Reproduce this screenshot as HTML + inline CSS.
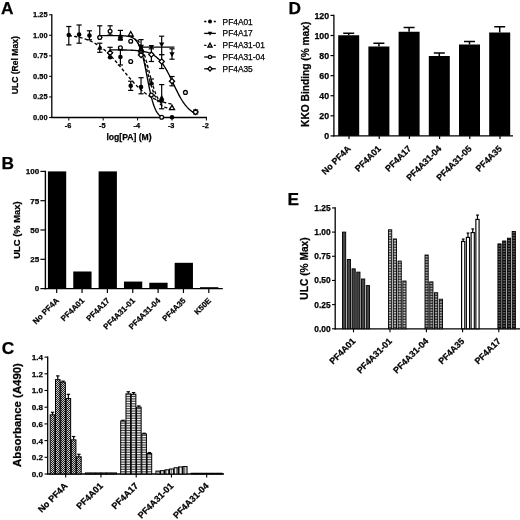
<!DOCTYPE html>
<html><head><meta charset="utf-8"><title>Figure</title>
<style>
html,body{margin:0;padding:0;background:#fff;}
svg{display:block;}
text{font-family:"Liberation Sans", Arial, sans-serif;fill:#000;stroke:#000;stroke-width:0.25px;}
</style></head><body>
<svg width="520" height="520" viewBox="0 0 520 520">
<rect width="520" height="520" fill="#fff"/>
<defs>
<pattern id="pDark" width="2" height="2" patternUnits="userSpaceOnUse"><rect width="2" height="2" fill="#222"/><rect x="0" y="0" width="1" height="1" fill="#ccc"/><rect x="1" y="1" width="1" height="1" fill="#ccc"/></pattern>
<pattern id="pLight" width="2" height="2" patternUnits="userSpaceOnUse"><rect width="2" height="2" fill="#ddd"/></pattern>
<pattern id="pH" width="2" height="1.7" patternUnits="userSpaceOnUse"><rect width="2" height="1.7" fill="#fff"/><rect x="0" y="0" width="2" height="0.8" fill="#333"/></pattern>
<pattern id="pV" width="1.6" height="2" patternUnits="userSpaceOnUse"><rect width="1.6" height="2" fill="#fff"/><rect x="0" y="0" width="0.7" height="2" fill="#555"/></pattern>
<pattern id="pGray" width="2" height="2" patternUnits="userSpaceOnUse"><rect width="2" height="2" fill="#444"/></pattern>
<pattern id="pDot" width="2" height="1.6" patternUnits="userSpaceOnUse"><rect width="2" height="1.6" fill="#333"/><rect x="0" y="0" width="2" height="0.75" fill="#ddd"/></pattern>
<pattern id="pDot2" width="2" height="1.6" patternUnits="userSpaceOnUse"><rect width="2" height="1.6" fill="#222"/><rect x="0" y="0" width="2" height="0.7" fill="#ccc"/></pattern>
<pattern id="pDark2" width="2" height="1.6" patternUnits="userSpaceOnUse"><rect width="2" height="1.6" fill="#000"/><rect x="0" y="0" width="2" height="0.55" fill="#999"/></pattern>
<filter id="soft" x="-2%" y="-2%" width="104%" height="104%"><feGaussianBlur stdDeviation="0.4"/></filter>
</defs>
<g filter="url(#soft)">
<text x="0.90" y="13.60" font-size="17.3" font-weight="bold" text-anchor="start">A</text>
<line x1="51.80" y1="14.20" x2="51.80" y2="118.10" stroke="#000" stroke-width="1.3"/>
<line x1="51.20" y1="117.50" x2="207.00" y2="117.50" stroke="#000" stroke-width="1.3"/>
<line x1="49.20" y1="117.50" x2="51.80" y2="117.50" stroke="#000" stroke-width="1.1"/>
<text x="47.50" y="119.80" font-size="7.4" font-weight="bold" text-anchor="end">0.00</text>
<line x1="49.20" y1="96.95" x2="51.80" y2="96.95" stroke="#000" stroke-width="1.1"/>
<text x="47.50" y="99.25" font-size="7.4" font-weight="bold" text-anchor="end">0.25</text>
<line x1="49.20" y1="76.40" x2="51.80" y2="76.40" stroke="#000" stroke-width="1.1"/>
<text x="47.50" y="78.70" font-size="7.4" font-weight="bold" text-anchor="end">0.50</text>
<line x1="49.20" y1="55.85" x2="51.80" y2="55.85" stroke="#000" stroke-width="1.1"/>
<text x="47.50" y="58.15" font-size="7.4" font-weight="bold" text-anchor="end">0.75</text>
<line x1="49.20" y1="35.30" x2="51.80" y2="35.30" stroke="#000" stroke-width="1.1"/>
<text x="47.50" y="37.60" font-size="7.4" font-weight="bold" text-anchor="end">1.00</text>
<line x1="49.20" y1="14.75" x2="51.80" y2="14.75" stroke="#000" stroke-width="1.1"/>
<text x="47.50" y="17.05" font-size="7.4" font-weight="bold" text-anchor="end">1.25</text>
<line x1="68.80" y1="117.50" x2="68.80" y2="120.50" stroke="#000" stroke-width="1.0"/>
<text x="68.00" y="127.70" font-size="7.4" font-weight="bold" text-anchor="middle">-6</text>
<line x1="103.20" y1="117.50" x2="103.20" y2="120.50" stroke="#000" stroke-width="1.0"/>
<text x="102.40" y="127.70" font-size="7.4" font-weight="bold" text-anchor="middle">-5</text>
<line x1="137.60" y1="117.50" x2="137.60" y2="120.50" stroke="#000" stroke-width="1.0"/>
<text x="136.80" y="127.70" font-size="7.4" font-weight="bold" text-anchor="middle">-4</text>
<line x1="172.00" y1="117.50" x2="172.00" y2="120.50" stroke="#000" stroke-width="1.0"/>
<text x="171.20" y="127.70" font-size="7.4" font-weight="bold" text-anchor="middle">-3</text>
<line x1="206.40" y1="117.50" x2="206.40" y2="120.50" stroke="#000" stroke-width="1.0"/>
<text x="205.60" y="127.70" font-size="7.4" font-weight="bold" text-anchor="middle">-2</text>
<text x="129.00" y="139.50" font-size="8.6" font-weight="bold" text-anchor="middle">log[PA] (M)</text>
<text x="18.20" y="65.20" font-size="8.6" font-weight="bold" text-anchor="middle" transform="rotate(-90 18.20 65.20)">ULC (Rel Max)</text>
<polyline points="68.80,35.53 70.09,35.70 71.38,35.87 72.67,36.07 73.96,36.28 75.25,36.50 76.54,36.75 77.83,37.02 79.12,37.30 80.41,37.62 81.70,37.95 82.99,38.31 84.28,38.70 85.57,39.13 86.86,39.58 88.15,40.07 89.44,40.59 90.73,41.15 92.02,41.75 93.31,42.40 94.60,43.08 95.89,43.81 97.18,44.59 98.47,45.42 99.76,46.30 101.05,47.23 102.34,48.21 103.63,49.24 104.92,50.33 106.21,51.46 107.50,52.65 108.79,53.89 110.08,55.18 111.37,56.52 112.66,57.89 113.95,59.31 115.24,60.77 116.53,62.26 117.82,63.78 119.11,65.32 120.40,66.88 121.69,68.45 122.98,70.02 124.27,71.60 125.56,73.18 126.85,74.74 128.14,76.29 129.43,77.81 130.72,79.31 132.01,80.77 133.30,82.20 134.59,83.59 135.88,84.94 137.17,86.24 138.46,87.49 139.75,88.69 141.04,89.85 142.33,90.94 143.62,91.99 144.91,92.99 146.20,93.93 147.49,94.82 148.78,95.66 150.07,96.45 151.36,97.20 152.65,97.90 153.94,98.55 155.23,99.16 156.52,99.73 157.81,100.27 159.10,100.76 160.39,101.23 161.68,101.66 162.97,102.05 164.26,102.42 165.55,102.77 166.84,103.09 168.13,103.38 169.42,103.65 170.71,103.90 172.00,104.13" fill="none" stroke="#000" stroke-width="1.35" stroke-dasharray="3.2 2.2"/>
<polyline points="139.32,47.05 139.76,47.05 140.20,47.05 140.64,47.05 141.07,47.05 141.51,47.05 141.95,47.05 142.39,47.05 142.83,47.05 143.27,47.05 143.71,47.05 144.14,47.05 144.58,47.05 145.02,47.05 145.46,47.05 145.90,47.05 146.34,47.05 146.78,47.05 147.21,47.05 147.65,47.05 148.09,47.05 148.53,47.05 148.97,47.05 149.41,47.05 149.85,47.05 150.28,47.05 150.72,47.05 151.16,47.05 151.60,47.05 152.04,47.05 152.48,47.05 152.92,47.05 153.36,47.05 153.79,47.05 154.23,47.05 154.67,47.05 155.11,47.05 155.55,47.05 155.99,47.05 156.43,47.05 156.86,47.05 157.30,47.05 157.74,47.05 158.18,47.05 158.62,47.05 159.06,47.05 159.50,47.05 159.93,47.05 160.37,47.05 160.81,47.05 161.25,47.05 161.69,47.05 162.13,47.05 162.57,47.05 163.00,47.05 163.44,47.05 163.88,47.05 164.32,47.05 164.76,47.05 165.20,47.05 165.64,47.05 166.07,47.05 166.51,47.05 166.95,47.05 167.39,47.05 167.83,47.05 168.27,47.05 168.71,47.05 169.14,47.05 169.58,47.05 170.02,47.05 170.46,47.05 170.90,47.05 171.34,47.05 171.78,47.05 172.21,47.05 172.65,47.05 173.09,47.05 173.53,47.05 173.97,47.05 174.41,47.05" fill="none" stroke="#000" stroke-width="1.35"/>
<polyline points="130.72,35.51 131.24,35.79 131.75,36.10 132.27,36.44 132.78,36.82 133.30,37.23 133.82,37.68 134.33,38.17 134.85,38.70 135.36,39.29 135.88,39.93 136.40,40.63 136.91,41.38 137.43,42.20 137.94,43.09 138.46,44.04 138.98,45.07 139.49,46.17 140.01,47.35 140.52,48.61 141.04,49.95 141.56,51.36 142.07,52.85 142.59,54.42 143.10,56.06 143.62,57.77 144.14,59.54 144.65,61.37 145.17,63.25 145.68,65.16 146.20,67.11 146.72,69.08 147.23,71.06 147.75,73.04 148.26,75.00 148.78,76.95 149.30,78.87 149.81,80.74 150.33,82.57 150.84,84.34 151.36,86.05 151.88,87.69 152.39,89.26 152.91,90.75 153.42,92.17 153.94,93.50 154.46,94.76 154.97,95.94 155.49,97.04 156.00,98.07 156.52,99.03 157.04,99.91 157.55,100.73 158.07,101.49 158.58,102.18 159.10,102.82 159.62,103.41 160.13,103.95 160.65,104.44 161.16,104.89 161.68,105.30 162.20,105.67 162.71,106.01 163.23,106.32 163.74,106.60 164.26,106.86 164.78,107.09 165.29,107.30 165.81,107.49 166.32,107.66 166.84,107.82 167.36,107.96 167.87,108.09 168.39,108.20 168.90,108.31 169.42,108.40 169.94,108.49 170.45,108.57 170.97,108.63 171.48,108.70 172.00,108.75" fill="none" stroke="#000" stroke-width="1.35" stroke-dasharray="3.2 2.2"/>
<polyline points="137.60,39.93 137.90,40.33 138.20,40.75 138.50,41.19 138.80,41.65 139.11,42.13 139.41,42.63 139.71,43.16 140.01,43.72 140.31,44.29 140.61,44.89 140.91,45.52 141.21,46.17 141.51,46.85 141.81,47.56 142.12,48.29 142.42,49.05 142.72,49.83 143.02,50.64 143.32,51.48 143.62,52.35 143.92,53.24 144.22,54.16 144.52,55.10 144.82,56.06 145.12,57.05 145.43,58.06 145.73,59.10 146.03,60.15 146.33,61.22 146.63,62.30 146.93,63.41 147.23,64.52 147.53,65.65 147.83,66.78 148.13,67.93 148.44,69.08 148.74,70.23 149.04,71.39 149.34,72.54 149.64,73.69 149.94,74.84 150.24,75.98 150.54,77.11 150.84,78.23 151.14,79.34 151.45,80.43 151.75,81.51 152.05,82.57 152.35,83.61 152.65,84.63 152.95,85.63 153.25,86.60 153.55,87.56 153.85,88.48 154.16,89.39 154.46,90.26 154.76,91.11 155.06,91.94 155.36,92.73 155.66,93.50 155.96,94.25 156.26,94.96 156.56,95.65 156.86,96.32 157.16,96.96 157.47,97.57 157.77,98.15 158.07,98.72 158.37,99.26 158.67,99.77 158.97,100.26 159.27,100.73 159.57,101.18 159.87,101.61 160.18,102.01 160.48,102.40 160.78,102.77 161.08,103.12 161.38,103.46 161.68,103.77" fill="none" stroke="#000" stroke-width="1.35" stroke-dasharray="3.2 2.2"/>
<polyline points="99.76,35.55 100.53,35.55 101.31,35.55 102.08,35.55 102.86,35.55 103.63,35.55 104.40,35.55 105.18,35.55 105.95,35.55 106.73,35.55 107.50,35.55 108.27,35.55 109.05,35.55 109.82,35.55 110.60,35.56 111.37,35.56 112.14,35.56 112.92,35.56 113.69,35.57 114.47,35.57 115.24,35.58 116.01,35.58 116.79,35.59 117.56,35.60 118.34,35.61 119.11,35.63 119.88,35.64 120.66,35.66 121.43,35.69 122.21,35.72 122.98,35.75 123.75,35.80 124.53,35.85 125.30,35.91 126.08,35.99 126.85,36.08 127.62,36.19 128.40,36.33 129.17,36.49 129.95,36.69 130.72,36.92 131.49,37.21 132.27,37.55 133.04,37.96 133.82,38.46 134.59,39.05 135.36,39.75 136.14,40.58 136.91,41.57 137.69,42.73 138.46,44.09 139.23,45.68 140.01,47.52 140.78,49.62 141.56,52.01 142.33,54.69 143.10,57.66 143.88,60.92 144.65,64.43 145.43,68.15 146.20,72.03 146.97,76.01 147.75,80.01 148.52,83.97 149.30,87.80 150.07,91.46 150.84,94.89 151.62,98.05 152.39,100.93 153.17,103.51 153.94,105.80 154.71,107.81 155.49,109.56 156.26,111.07 157.04,112.37 157.81,113.47 158.58,114.40 159.36,115.19 160.13,115.85 160.91,116.41 161.68,116.87" fill="none" stroke="#000" stroke-width="1.35"/>
<polyline points="110.08,49.87 111.16,49.88 112.23,49.88 113.31,49.89 114.38,49.89 115.45,49.90 116.53,49.90 117.61,49.91 118.68,49.92 119.75,49.93 120.83,49.94 121.91,49.96 122.98,49.97 124.06,49.99 125.13,50.01 126.20,50.03 127.28,50.06 128.36,50.09 129.43,50.12 130.50,50.16 131.58,50.21 132.66,50.26 133.73,50.32 134.81,50.39 135.88,50.46 136.95,50.55 138.03,50.65 139.11,50.76 140.18,50.89 141.25,51.04 142.33,51.21 143.41,51.40 144.48,51.62 145.56,51.87 146.63,52.15 147.70,52.47 148.78,52.83 149.86,53.23 150.93,53.69 152.00,54.21 153.08,54.79 154.16,55.45 155.23,56.18 156.31,56.99 157.38,57.90 158.45,58.90 159.53,60.01 160.61,61.23 161.68,62.56 162.75,64.01 163.83,65.57 164.91,67.25 165.98,69.05 167.06,70.95 168.13,72.95 169.20,75.04 170.28,77.20 171.36,79.42 172.43,81.67 173.50,83.95 174.58,86.22 175.66,88.47 176.73,90.67 177.81,92.82 178.88,94.89 179.95,96.86 181.03,98.74 182.11,100.51 183.18,102.17 184.25,103.70 185.33,105.12 186.41,106.42 187.48,107.62 188.56,108.70 189.63,109.68 190.70,110.56 191.78,111.36 192.86,112.07 193.93,112.70 195.00,113.27 196.08,113.77" fill="none" stroke="#000" stroke-width="1.35"/>
<line x1="68.80" y1="26.50" x2="68.80" y2="44.90" stroke="#000" stroke-width="1.2"/>
<line x1="66.20" y1="26.50" x2="71.40" y2="26.50" stroke="#000" stroke-width="1.2"/>
<line x1="66.20" y1="44.90" x2="71.40" y2="44.90" stroke="#000" stroke-width="1.2"/>
<line x1="79.12" y1="25.00" x2="79.12" y2="43.20" stroke="#000" stroke-width="1.2"/>
<line x1="76.52" y1="25.00" x2="81.72" y2="25.00" stroke="#000" stroke-width="1.2"/>
<line x1="76.52" y1="43.20" x2="81.72" y2="43.20" stroke="#000" stroke-width="1.2"/>
<line x1="89.44" y1="30.80" x2="89.44" y2="39.80" stroke="#000" stroke-width="1.2"/>
<line x1="86.84" y1="30.80" x2="92.04" y2="30.80" stroke="#000" stroke-width="1.2"/>
<line x1="86.84" y1="39.80" x2="92.04" y2="39.80" stroke="#000" stroke-width="1.2"/>
<line x1="120.40" y1="50.00" x2="120.40" y2="65.00" stroke="#000" stroke-width="1.2"/>
<line x1="117.80" y1="50.00" x2="123.00" y2="50.00" stroke="#000" stroke-width="1.2"/>
<line x1="117.80" y1="65.00" x2="123.00" y2="65.00" stroke="#000" stroke-width="1.2"/>
<line x1="130.72" y1="81.20" x2="130.72" y2="90.40" stroke="#000" stroke-width="1.2"/>
<line x1="128.12" y1="81.20" x2="133.32" y2="81.20" stroke="#000" stroke-width="1.2"/>
<line x1="128.12" y1="90.40" x2="133.32" y2="90.40" stroke="#000" stroke-width="1.2"/>
<line x1="141.04" y1="77.70" x2="141.04" y2="93.80" stroke="#000" stroke-width="1.2"/>
<line x1="138.44" y1="77.70" x2="143.64" y2="77.70" stroke="#000" stroke-width="1.2"/>
<line x1="138.44" y1="93.80" x2="143.64" y2="93.80" stroke="#000" stroke-width="1.2"/>
<line x1="161.68" y1="84.60" x2="161.68" y2="108.80" stroke="#000" stroke-width="1.2"/>
<line x1="159.08" y1="84.60" x2="164.28" y2="84.60" stroke="#000" stroke-width="1.2"/>
<line x1="159.08" y1="108.80" x2="164.28" y2="108.80" stroke="#000" stroke-width="1.2"/>
<line x1="99.76" y1="43.20" x2="99.76" y2="52.30" stroke="#000" stroke-width="1.2"/>
<line x1="97.16" y1="43.20" x2="102.36" y2="43.20" stroke="#000" stroke-width="1.2"/>
<line x1="97.16" y1="52.30" x2="102.36" y2="52.30" stroke="#000" stroke-width="1.2"/>
<line x1="120.40" y1="30.40" x2="120.40" y2="39.60" stroke="#000" stroke-width="1.2"/>
<line x1="117.80" y1="30.40" x2="123.00" y2="30.40" stroke="#000" stroke-width="1.2"/>
<line x1="117.80" y1="39.60" x2="123.00" y2="39.60" stroke="#000" stroke-width="1.2"/>
<line x1="141.04" y1="39.60" x2="141.04" y2="54.00" stroke="#000" stroke-width="1.2"/>
<line x1="138.44" y1="39.60" x2="143.64" y2="39.60" stroke="#000" stroke-width="1.2"/>
<line x1="138.44" y1="54.00" x2="143.64" y2="54.00" stroke="#000" stroke-width="1.2"/>
<line x1="161.68" y1="36.20" x2="161.68" y2="54.60" stroke="#000" stroke-width="1.2"/>
<line x1="159.08" y1="36.20" x2="164.28" y2="36.20" stroke="#000" stroke-width="1.2"/>
<line x1="159.08" y1="54.60" x2="164.28" y2="54.60" stroke="#000" stroke-width="1.2"/>
<line x1="172.00" y1="48.80" x2="172.00" y2="59.20" stroke="#000" stroke-width="1.2"/>
<line x1="169.40" y1="48.80" x2="174.60" y2="48.80" stroke="#000" stroke-width="1.2"/>
<line x1="169.40" y1="59.20" x2="174.60" y2="59.20" stroke="#000" stroke-width="1.2"/>
<line x1="151.36" y1="79.00" x2="151.36" y2="83.20" stroke="#000" stroke-width="1.2"/>
<line x1="148.76" y1="79.00" x2="153.96" y2="79.00" stroke="#000" stroke-width="1.2"/>
<line x1="148.76" y1="83.20" x2="153.96" y2="83.20" stroke="#000" stroke-width="1.2"/>
<line x1="99.76" y1="25.80" x2="99.76" y2="37.40" stroke="#000" stroke-width="1.2"/>
<line x1="97.16" y1="25.80" x2="102.36" y2="25.80" stroke="#000" stroke-width="1.2"/>
<line x1="97.16" y1="37.40" x2="102.36" y2="37.40" stroke="#000" stroke-width="1.2"/>
<line x1="110.08" y1="25.80" x2="110.08" y2="35.00" stroke="#000" stroke-width="1.2"/>
<line x1="107.48" y1="25.80" x2="112.68" y2="25.80" stroke="#000" stroke-width="1.2"/>
<line x1="107.48" y1="35.00" x2="112.68" y2="35.00" stroke="#000" stroke-width="1.2"/>
<line x1="110.08" y1="47.30" x2="110.08" y2="52.80" stroke="#000" stroke-width="1.2"/>
<line x1="107.48" y1="47.30" x2="112.68" y2="47.30" stroke="#000" stroke-width="1.2"/>
<line x1="107.48" y1="52.80" x2="112.68" y2="52.80" stroke="#000" stroke-width="1.2"/>
<line x1="151.36" y1="48.80" x2="151.36" y2="61.50" stroke="#000" stroke-width="1.2"/>
<line x1="148.76" y1="48.80" x2="153.96" y2="48.80" stroke="#000" stroke-width="1.2"/>
<line x1="148.76" y1="61.50" x2="153.96" y2="61.50" stroke="#000" stroke-width="1.2"/>
<line x1="161.68" y1="54.60" x2="161.68" y2="68.50" stroke="#000" stroke-width="1.2"/>
<line x1="159.08" y1="54.60" x2="164.28" y2="54.60" stroke="#000" stroke-width="1.2"/>
<line x1="159.08" y1="68.50" x2="164.28" y2="68.50" stroke="#000" stroke-width="1.2"/>
<line x1="172.00" y1="76.50" x2="172.00" y2="85.80" stroke="#000" stroke-width="1.2"/>
<line x1="169.40" y1="76.50" x2="174.60" y2="76.50" stroke="#000" stroke-width="1.2"/>
<line x1="169.40" y1="85.80" x2="174.60" y2="85.80" stroke="#000" stroke-width="1.2"/>
<line x1="195.56" y1="110.00" x2="195.56" y2="114.00" stroke="#000" stroke-width="1.2"/>
<line x1="192.96" y1="110.00" x2="198.16" y2="110.00" stroke="#000" stroke-width="1.2"/>
<line x1="192.96" y1="114.00" x2="198.16" y2="114.00" stroke="#000" stroke-width="1.2"/>
<circle cx="68.80" cy="35.00" r="2.3" fill="#000"/>
<circle cx="79.12" cy="34.60" r="2.3" fill="#000"/>
<circle cx="89.44" cy="35.60" r="2.3" fill="#000"/>
<circle cx="110.08" cy="57.20" r="2.3" fill="#000"/>
<circle cx="120.40" cy="57.00" r="2.3" fill="#000"/>
<circle cx="130.72" cy="85.80" r="2.3" fill="#000"/>
<circle cx="141.04" cy="87.00" r="2.3" fill="#000"/>
<circle cx="161.68" cy="100.50" r="2.3" fill="#000"/>
<circle cx="172.00" cy="117.20" r="2.3" fill="#000"/>
<polygon points="97.06,49.86 102.46,49.86 99.76,45.00" fill="#000"/>
<polygon points="117.70,40.36 123.10,40.36 120.40,35.50" fill="#000"/>
<polygon points="138.34,45.34 143.74,45.34 141.04,50.20" fill="#000"/>
<polygon points="148.66,45.04 154.06,45.04 151.36,49.90" fill="#000"/>
<polygon points="158.98,42.44 164.38,42.44 161.68,47.30" fill="#000"/>
<polygon points="169.30,52.24 174.70,52.24 172.00,57.10" fill="#000"/>
<polygon points="117.70,37.76 123.10,37.76 120.40,32.90" fill="#000"/>
<polygon points="128.22,36.00 133.22,36.00 130.72,31.50" fill="#fff" stroke="#000" stroke-width="1.3"/>
<polygon points="138.54,51.50 143.54,51.50 141.04,47.00" fill="#fff" stroke="#000" stroke-width="1.3"/>
<polygon points="148.66,85.36 154.06,85.36 151.36,80.50" fill="#000"/>
<polygon points="158.98,99.66 164.38,99.66 161.68,94.80" fill="#000"/>
<polygon points="169.50,109.70 174.50,109.70 172.00,105.20" fill="#fff" stroke="#000" stroke-width="1.3"/>
<circle cx="99.76" cy="37.40" r="1.9" fill="#fff" stroke="#000" stroke-width="1.3"/>
<circle cx="110.08" cy="31.20" r="1.9" fill="#fff" stroke="#000" stroke-width="1.3"/>
<circle cx="130.72" cy="41.20" r="1.9" fill="#fff" stroke="#000" stroke-width="1.3"/>
<circle cx="141.04" cy="52.50" r="1.9" fill="#fff" stroke="#000" stroke-width="1.3"/>
<circle cx="151.36" cy="95.00" r="1.9" fill="#fff" stroke="#000" stroke-width="1.3"/>
<circle cx="161.68" cy="117.30" r="1.9" fill="#fff" stroke="#000" stroke-width="1.3"/>
<polygon points="107.48,52.80 110.08,50.20 112.68,52.80 110.08,55.40" fill="#fff" stroke="#000" stroke-width="1.3"/>
<polygon points="138.44,55.00 141.04,52.40 143.64,55.00 141.04,57.60" fill="#fff" stroke="#000" stroke-width="1.3"/>
<polygon points="148.76,54.60 151.36,52.00 153.96,54.60 151.36,57.20" fill="#fff" stroke="#000" stroke-width="1.3"/>
<polygon points="159.08,61.50 161.68,58.90 164.28,61.50 161.68,64.10" fill="#fff" stroke="#000" stroke-width="1.3"/>
<polygon points="169.40,81.20 172.00,78.60 174.60,81.20 172.00,83.80" fill="#fff" stroke="#000" stroke-width="1.3"/>
<polygon points="192.96,112.00 195.56,109.40 198.16,112.00 195.56,114.60" fill="#fff" stroke="#000" stroke-width="1.3"/>
<circle cx="130.72" cy="61.50" r="1.9" fill="#fff" stroke="#000" stroke-width="1.3"/>
<circle cx="120.40" cy="47.70" r="1.9" fill="#fff" stroke="#000" stroke-width="1.3"/>
<rect x="118.30" y="36.50" width="4.20" height="4.20" fill="#000"/>
<circle cx="141.04" cy="49.50" r="2.3" fill="#000"/>
<polygon points="138.34,44.84 143.74,44.84 141.04,49.70" fill="#000"/>
<circle cx="185.42" cy="92.40" r="1.9" fill="#fff" stroke="#000" stroke-width="1.3"/>
<line x1="204.20" y1="21.50" x2="215.80" y2="21.50" stroke="#000" stroke-width="1.3" stroke-dasharray="2.2 2.6"/>
<circle cx="210.00" cy="21.50" r="2.0" fill="#000"/>
<text x="222.60" y="24.50" font-size="8.35" font-weight="normal" text-anchor="start" stroke-width="0.15">PF4A01</text>
<line x1="204.20" y1="33.40" x2="215.80" y2="33.40" stroke="#000" stroke-width="1.3"/>
<polygon points="207.80,31.84 212.20,31.84 210.00,35.80" fill="#000"/>
<text x="222.60" y="36.40" font-size="8.35" font-weight="normal" text-anchor="start" stroke-width="0.15">PF4A17</text>
<line x1="204.20" y1="45.30" x2="215.80" y2="45.30" stroke="#000" stroke-width="1.3" stroke-dasharray="2.2 2.6"/>
<polygon points="207.90,46.98 212.10,46.98 210.00,43.20" fill="#fff" stroke="#000" stroke-width="1.3"/>
<text x="222.60" y="48.30" font-size="8.35" font-weight="normal" text-anchor="start" stroke-width="0.15">PF4A31-01</text>
<line x1="204.20" y1="57.00" x2="215.80" y2="57.00" stroke="#000" stroke-width="1.3"/>
<circle cx="210.00" cy="57.00" r="1.6" fill="#fff" stroke="#000" stroke-width="1.3"/>
<text x="222.60" y="60.00" font-size="8.35" font-weight="normal" text-anchor="start" stroke-width="0.15">PF4A31-04</text>
<line x1="204.20" y1="68.80" x2="215.80" y2="68.80" stroke="#000" stroke-width="1.3"/>
<polygon points="207.80,68.80 210.00,66.60 212.20,68.80 210.00,71.00" fill="#fff" stroke="#000" stroke-width="1.3"/>
<text x="222.60" y="71.80" font-size="8.35" font-weight="normal" text-anchor="start" stroke-width="0.15">PF4A35</text>
<text x="1.60" y="169.20" font-size="17.3" font-weight="bold" text-anchor="start">B</text>
<line x1="45.40" y1="170.80" x2="45.40" y2="289.30" stroke="#000" stroke-width="1.4"/>
<line x1="44.70" y1="288.60" x2="222.80" y2="288.60" stroke="#000" stroke-width="1.4"/>
<line x1="40.40" y1="288.60" x2="45.40" y2="288.60" stroke="#000" stroke-width="1.2"/>
<text x="39.20" y="291.40" font-size="8.0" font-weight="bold" text-anchor="end">0</text>
<line x1="40.40" y1="259.30" x2="45.40" y2="259.30" stroke="#000" stroke-width="1.2"/>
<text x="39.20" y="262.10" font-size="8.0" font-weight="bold" text-anchor="end">25</text>
<line x1="40.40" y1="230.00" x2="45.40" y2="230.00" stroke="#000" stroke-width="1.2"/>
<text x="39.20" y="232.80" font-size="8.0" font-weight="bold" text-anchor="end">50</text>
<line x1="40.40" y1="200.70" x2="45.40" y2="200.70" stroke="#000" stroke-width="1.2"/>
<text x="39.20" y="203.50" font-size="8.0" font-weight="bold" text-anchor="end">75</text>
<line x1="40.40" y1="171.40" x2="45.40" y2="171.40" stroke="#000" stroke-width="1.2"/>
<text x="39.20" y="174.20" font-size="8.0" font-weight="bold" text-anchor="end">100</text>
<text x="19.60" y="230.00" font-size="9.4" font-weight="bold" text-anchor="middle" transform="rotate(-90 19.60 230.00)">ULC (% Max)</text>
<rect x="47.90" y="171.40" width="18.30" height="117.20" fill="#000"/>
<line x1="56.70" y1="288.60" x2="56.70" y2="293.00" stroke="#000" stroke-width="1.2"/>
<text x="59.50" y="301.10" font-size="8.0" font-weight="bold" text-anchor="end" transform="rotate(-45 59.50 301.10)">No PF4A</text>
<rect x="73.25" y="271.49" width="18.30" height="17.11" fill="#000"/>
<line x1="82.05" y1="288.60" x2="82.05" y2="293.00" stroke="#000" stroke-width="1.2"/>
<text x="84.85" y="301.10" font-size="8.0" font-weight="bold" text-anchor="end" transform="rotate(-45 84.85 301.10)">PF4A01</text>
<rect x="98.60" y="171.40" width="18.30" height="117.20" fill="#000"/>
<line x1="107.40" y1="288.60" x2="107.40" y2="293.00" stroke="#000" stroke-width="1.2"/>
<text x="110.20" y="301.10" font-size="8.0" font-weight="bold" text-anchor="end" transform="rotate(-45 110.20 301.10)">PF4A17</text>
<rect x="123.95" y="281.57" width="18.30" height="7.03" fill="#000"/>
<line x1="132.75" y1="288.60" x2="132.75" y2="293.00" stroke="#000" stroke-width="1.2"/>
<text x="135.55" y="301.10" font-size="8.0" font-weight="bold" text-anchor="end" transform="rotate(-45 135.55 301.10)">PF4A31-01</text>
<rect x="149.30" y="282.74" width="18.30" height="5.86" fill="#000"/>
<line x1="158.10" y1="288.60" x2="158.10" y2="293.00" stroke="#000" stroke-width="1.2"/>
<text x="160.90" y="301.10" font-size="8.0" font-weight="bold" text-anchor="end" transform="rotate(-45 160.90 301.10)">PF4A31-04</text>
<rect x="174.65" y="262.82" width="18.30" height="25.78" fill="#000"/>
<line x1="183.45" y1="288.60" x2="183.45" y2="293.00" stroke="#000" stroke-width="1.2"/>
<text x="186.25" y="301.10" font-size="8.0" font-weight="bold" text-anchor="end" transform="rotate(-45 186.25 301.10)">PF4A35</text>
<rect x="200.00" y="287.19" width="18.30" height="1.41" fill="#000"/>
<line x1="208.80" y1="288.60" x2="208.80" y2="293.00" stroke="#000" stroke-width="1.2"/>
<text x="211.60" y="301.10" font-size="8.0" font-weight="bold" text-anchor="end" transform="rotate(-45 211.60 301.10)">K50E</text>
<text x="1.80" y="354.00" font-size="17.3" font-weight="bold" text-anchor="start">C</text>
<line x1="47.70" y1="356.50" x2="47.70" y2="474.60" stroke="#000" stroke-width="1.3"/>
<line x1="47.10" y1="474.00" x2="224.00" y2="474.00" stroke="#000" stroke-width="1.3"/>
<line x1="44.50" y1="474.00" x2="47.70" y2="474.00" stroke="#000" stroke-width="1.1"/>
<text x="43.10" y="476.90" font-size="8.1" font-weight="bold" text-anchor="end">0.0</text>
<line x1="44.50" y1="457.30" x2="47.70" y2="457.30" stroke="#000" stroke-width="1.1"/>
<text x="43.10" y="460.20" font-size="8.1" font-weight="bold" text-anchor="end">0.2</text>
<line x1="44.50" y1="440.60" x2="47.70" y2="440.60" stroke="#000" stroke-width="1.1"/>
<text x="43.10" y="443.50" font-size="8.1" font-weight="bold" text-anchor="end">0.4</text>
<line x1="44.50" y1="423.90" x2="47.70" y2="423.90" stroke="#000" stroke-width="1.1"/>
<text x="43.10" y="426.80" font-size="8.1" font-weight="bold" text-anchor="end">0.6</text>
<line x1="44.50" y1="407.20" x2="47.70" y2="407.20" stroke="#000" stroke-width="1.1"/>
<text x="43.10" y="410.10" font-size="8.1" font-weight="bold" text-anchor="end">0.8</text>
<line x1="44.50" y1="390.50" x2="47.70" y2="390.50" stroke="#000" stroke-width="1.1"/>
<text x="43.10" y="393.40" font-size="8.1" font-weight="bold" text-anchor="end">1.0</text>
<line x1="44.50" y1="373.80" x2="47.70" y2="373.80" stroke="#000" stroke-width="1.1"/>
<text x="43.10" y="376.70" font-size="8.1" font-weight="bold" text-anchor="end">1.2</text>
<line x1="44.50" y1="357.10" x2="47.70" y2="357.10" stroke="#000" stroke-width="1.1"/>
<text x="43.10" y="360.00" font-size="8.1" font-weight="bold" text-anchor="end">1.4</text>
<text x="21.00" y="415.00" font-size="11.4" font-weight="bold" text-anchor="middle" transform="rotate(-90 21.00 415.00)">Absorbance (A490)</text>
<line x1="52.50" y1="412.29" x2="52.50" y2="414.80" stroke="#000" stroke-width="1.2"/>
<line x1="50.80" y1="412.29" x2="54.20" y2="412.29" stroke="#000" stroke-width="1.2"/>
<rect x="50.20" y="414.80" width="4.60" height="59.20" fill="url(#pDark)" stroke="#000" stroke-width="1.0"/>
<line x1="57.78" y1="375.89" x2="57.78" y2="379.64" stroke="#000" stroke-width="1.2"/>
<line x1="56.08" y1="375.89" x2="59.48" y2="375.89" stroke="#000" stroke-width="1.2"/>
<rect x="55.48" y="379.64" width="4.60" height="94.36" fill="url(#pDark)" stroke="#000" stroke-width="1.0"/>
<line x1="63.06" y1="381.15" x2="63.06" y2="382.15" stroke="#000" stroke-width="1.2"/>
<line x1="61.36" y1="381.15" x2="64.76" y2="381.15" stroke="#000" stroke-width="1.2"/>
<rect x="60.76" y="382.15" width="4.60" height="91.85" fill="url(#pDark)" stroke="#000" stroke-width="1.0"/>
<line x1="68.34" y1="394.34" x2="68.34" y2="398.52" stroke="#000" stroke-width="1.2"/>
<line x1="66.64" y1="394.34" x2="70.04" y2="394.34" stroke="#000" stroke-width="1.2"/>
<rect x="66.04" y="398.52" width="4.60" height="75.48" fill="url(#pDark)" stroke="#000" stroke-width="1.0"/>
<line x1="73.62" y1="436.51" x2="73.62" y2="439.85" stroke="#000" stroke-width="1.2"/>
<line x1="71.92" y1="436.51" x2="75.32" y2="436.51" stroke="#000" stroke-width="1.2"/>
<rect x="71.32" y="439.85" width="4.60" height="34.15" fill="url(#pDark)" stroke="#000" stroke-width="1.0"/>
<line x1="78.90" y1="454.29" x2="78.90" y2="456.80" stroke="#000" stroke-width="1.2"/>
<line x1="77.20" y1="454.29" x2="80.60" y2="454.29" stroke="#000" stroke-width="1.2"/>
<rect x="76.60" y="456.80" width="4.60" height="17.20" fill="url(#pDark)" stroke="#000" stroke-width="1.0"/>
<line x1="65.70" y1="474.00" x2="65.70" y2="477.50" stroke="#000" stroke-width="1.1"/>
<text x="68.20" y="486.50" font-size="9.0" font-weight="bold" text-anchor="end" transform="rotate(-45 68.20 486.50)">No PF4A</text>
<rect x="85.45" y="472.91" width="4.60" height="1.09" fill="url(#pLight)" stroke="#000" stroke-width="1.0"/>
<rect x="90.73" y="472.91" width="4.60" height="1.09" fill="url(#pLight)" stroke="#000" stroke-width="1.0"/>
<rect x="96.01" y="472.91" width="4.60" height="1.09" fill="url(#pLight)" stroke="#000" stroke-width="1.0"/>
<rect x="101.29" y="472.91" width="4.60" height="1.09" fill="url(#pLight)" stroke="#000" stroke-width="1.0"/>
<rect x="106.57" y="472.91" width="4.60" height="1.09" fill="url(#pLight)" stroke="#000" stroke-width="1.0"/>
<rect x="111.85" y="472.91" width="4.60" height="1.09" fill="url(#pLight)" stroke="#000" stroke-width="1.0"/>
<line x1="100.95" y1="474.00" x2="100.95" y2="477.50" stroke="#000" stroke-width="1.1"/>
<text x="103.45" y="486.50" font-size="9.0" font-weight="bold" text-anchor="end" transform="rotate(-45 103.45 486.50)">PF4A01</text>
<line x1="123.00" y1="420.31" x2="123.00" y2="420.98" stroke="#000" stroke-width="1.2"/>
<line x1="121.30" y1="420.31" x2="124.70" y2="420.31" stroke="#000" stroke-width="1.2"/>
<rect x="120.70" y="420.98" width="4.60" height="53.02" fill="url(#pH)" stroke="#000" stroke-width="1.0"/>
<line x1="128.28" y1="391.75" x2="128.28" y2="393.84" stroke="#000" stroke-width="1.2"/>
<line x1="126.58" y1="391.75" x2="129.98" y2="391.75" stroke="#000" stroke-width="1.2"/>
<rect x="125.98" y="393.84" width="4.60" height="80.16" fill="url(#pH)" stroke="#000" stroke-width="1.0"/>
<line x1="133.56" y1="392.59" x2="133.56" y2="394.26" stroke="#000" stroke-width="1.2"/>
<line x1="131.86" y1="392.59" x2="135.26" y2="392.59" stroke="#000" stroke-width="1.2"/>
<rect x="131.26" y="394.26" width="4.60" height="79.74" fill="url(#pH)" stroke="#000" stroke-width="1.0"/>
<line x1="138.84" y1="405.95" x2="138.84" y2="407.20" stroke="#000" stroke-width="1.2"/>
<line x1="137.14" y1="405.95" x2="140.54" y2="405.95" stroke="#000" stroke-width="1.2"/>
<rect x="136.54" y="407.20" width="4.60" height="66.80" fill="url(#pH)" stroke="#000" stroke-width="1.0"/>
<line x1="144.12" y1="433.25" x2="144.12" y2="433.92" stroke="#000" stroke-width="1.2"/>
<line x1="142.42" y1="433.25" x2="145.82" y2="433.25" stroke="#000" stroke-width="1.2"/>
<rect x="141.82" y="433.92" width="4.60" height="40.08" fill="url(#pH)" stroke="#000" stroke-width="1.0"/>
<line x1="149.40" y1="452.54" x2="149.40" y2="453.54" stroke="#000" stroke-width="1.2"/>
<line x1="147.70" y1="452.54" x2="151.10" y2="452.54" stroke="#000" stroke-width="1.2"/>
<rect x="147.10" y="453.54" width="4.60" height="20.46" fill="url(#pH)" stroke="#000" stroke-width="1.0"/>
<line x1="136.20" y1="474.00" x2="136.20" y2="477.50" stroke="#000" stroke-width="1.1"/>
<text x="138.70" y="486.50" font-size="9.0" font-weight="bold" text-anchor="end" transform="rotate(-45 138.70 486.50)">PF4A17</text>
<rect x="155.95" y="471.08" width="3.94" height="2.92" fill="url(#pV)" stroke="#000" stroke-width="1.0"/>
<rect x="160.48" y="470.66" width="3.94" height="3.34" fill="url(#pV)" stroke="#000" stroke-width="1.0"/>
<rect x="165.00" y="469.82" width="3.94" height="4.18" fill="url(#pV)" stroke="#000" stroke-width="1.0"/>
<rect x="169.53" y="468.99" width="3.94" height="5.01" fill="url(#pV)" stroke="#000" stroke-width="1.0"/>
<rect x="174.05" y="467.74" width="3.94" height="6.26" fill="url(#pV)" stroke="#000" stroke-width="1.0"/>
<rect x="178.58" y="466.90" width="3.94" height="7.10" fill="url(#pV)" stroke="#000" stroke-width="1.0"/>
<rect x="183.10" y="466.49" width="3.94" height="7.51" fill="url(#pV)" stroke="#000" stroke-width="1.0"/>
<line x1="171.45" y1="474.00" x2="171.45" y2="477.50" stroke="#000" stroke-width="1.1"/>
<text x="173.95" y="486.50" font-size="9.0" font-weight="bold" text-anchor="end" transform="rotate(-45 173.95 486.50)">PF4A31-01</text>
<rect x="191.20" y="473.25" width="4.60" height="0.75" fill="url(#pLight)" stroke="#000" stroke-width="1.0"/>
<rect x="196.48" y="473.25" width="4.60" height="0.75" fill="url(#pLight)" stroke="#000" stroke-width="1.0"/>
<rect x="201.76" y="473.25" width="4.60" height="0.75" fill="url(#pLight)" stroke="#000" stroke-width="1.0"/>
<rect x="207.04" y="473.25" width="4.60" height="0.75" fill="url(#pLight)" stroke="#000" stroke-width="1.0"/>
<rect x="212.32" y="473.25" width="4.60" height="0.75" fill="url(#pLight)" stroke="#000" stroke-width="1.0"/>
<rect x="217.60" y="473.25" width="4.60" height="0.75" fill="url(#pLight)" stroke="#000" stroke-width="1.0"/>
<line x1="206.70" y1="474.00" x2="206.70" y2="477.50" stroke="#000" stroke-width="1.1"/>
<text x="209.20" y="486.50" font-size="9.0" font-weight="bold" text-anchor="end" transform="rotate(-45 209.20 486.50)">PF4A31-04</text>
<text x="288.60" y="14.00" font-size="17.3" font-weight="bold" text-anchor="start">D</text>
<line x1="333.90" y1="14.82" x2="333.90" y2="136.50" stroke="#000" stroke-width="1.3"/>
<line x1="333.30" y1="135.90" x2="513.00" y2="135.90" stroke="#000" stroke-width="1.3"/>
<line x1="330.50" y1="135.90" x2="333.90" y2="135.90" stroke="#000" stroke-width="1.2"/>
<text x="329.10" y="139.00" font-size="8.8" font-weight="bold" text-anchor="end">0</text>
<line x1="330.50" y1="115.82" x2="333.90" y2="115.82" stroke="#000" stroke-width="1.2"/>
<text x="329.10" y="118.92" font-size="8.8" font-weight="bold" text-anchor="end">20</text>
<line x1="330.50" y1="95.74" x2="333.90" y2="95.74" stroke="#000" stroke-width="1.2"/>
<text x="329.10" y="98.84" font-size="8.8" font-weight="bold" text-anchor="end">40</text>
<line x1="330.50" y1="75.66" x2="333.90" y2="75.66" stroke="#000" stroke-width="1.2"/>
<text x="329.10" y="78.76" font-size="8.8" font-weight="bold" text-anchor="end">60</text>
<line x1="330.50" y1="55.58" x2="333.90" y2="55.58" stroke="#000" stroke-width="1.2"/>
<text x="329.10" y="58.68" font-size="8.8" font-weight="bold" text-anchor="end">80</text>
<line x1="330.50" y1="35.50" x2="333.90" y2="35.50" stroke="#000" stroke-width="1.2"/>
<text x="329.10" y="38.60" font-size="8.8" font-weight="bold" text-anchor="end">100</text>
<line x1="330.50" y1="15.42" x2="333.90" y2="15.42" stroke="#000" stroke-width="1.2"/>
<text x="329.10" y="18.52" font-size="8.8" font-weight="bold" text-anchor="end">120</text>
<text x="309.00" y="74.30" font-size="10.2" font-weight="bold" text-anchor="middle" transform="rotate(-90 309.00 74.30)">KKO Binding (% max)</text>
<line x1="348.70" y1="33.25" x2="348.70" y2="35.25" stroke="#000" stroke-width="1.5"/>
<line x1="343.20" y1="33.25" x2="354.20" y2="33.25" stroke="#000" stroke-width="1.5"/>
<rect x="338.20" y="35.25" width="21.00" height="100.65" fill="#000"/>
<line x1="349.00" y1="135.90" x2="349.00" y2="139.10" stroke="#000" stroke-width="1.2"/>
<text x="351.40" y="149.20" font-size="8.9" font-weight="bold" text-anchor="end" transform="rotate(-45 351.40 149.20)">No PF4A</text>
<line x1="378.90" y1="43.25" x2="378.90" y2="46.50" stroke="#000" stroke-width="1.5"/>
<line x1="373.40" y1="43.25" x2="384.40" y2="43.25" stroke="#000" stroke-width="1.5"/>
<rect x="368.40" y="46.50" width="21.00" height="89.40" fill="#000"/>
<line x1="379.20" y1="135.90" x2="379.20" y2="139.10" stroke="#000" stroke-width="1.2"/>
<text x="381.60" y="149.20" font-size="8.9" font-weight="bold" text-anchor="end" transform="rotate(-45 381.60 149.20)">PF4A01</text>
<line x1="409.10" y1="27.50" x2="409.10" y2="31.75" stroke="#000" stroke-width="1.5"/>
<line x1="403.60" y1="27.50" x2="414.60" y2="27.50" stroke="#000" stroke-width="1.5"/>
<rect x="398.60" y="31.75" width="21.00" height="104.15" fill="#000"/>
<line x1="409.40" y1="135.90" x2="409.40" y2="139.10" stroke="#000" stroke-width="1.2"/>
<text x="411.80" y="149.20" font-size="8.9" font-weight="bold" text-anchor="end" transform="rotate(-45 411.80 149.20)">PF4A17</text>
<line x1="439.30" y1="53.00" x2="439.30" y2="56.00" stroke="#000" stroke-width="1.5"/>
<line x1="433.80" y1="53.00" x2="444.80" y2="53.00" stroke="#000" stroke-width="1.5"/>
<rect x="428.80" y="56.00" width="21.00" height="79.90" fill="#000"/>
<line x1="439.60" y1="135.90" x2="439.60" y2="139.10" stroke="#000" stroke-width="1.2"/>
<text x="442.00" y="149.20" font-size="8.9" font-weight="bold" text-anchor="end" transform="rotate(-45 442.00 149.20)">PF4A31-04</text>
<line x1="469.50" y1="41.50" x2="469.50" y2="44.50" stroke="#000" stroke-width="1.5"/>
<line x1="464.00" y1="41.50" x2="475.00" y2="41.50" stroke="#000" stroke-width="1.5"/>
<rect x="459.00" y="44.50" width="21.00" height="91.40" fill="#000"/>
<line x1="469.80" y1="135.90" x2="469.80" y2="139.10" stroke="#000" stroke-width="1.2"/>
<text x="472.20" y="149.20" font-size="8.9" font-weight="bold" text-anchor="end" transform="rotate(-45 472.20 149.20)">PF4A31-05</text>
<line x1="499.70" y1="26.75" x2="499.70" y2="32.50" stroke="#000" stroke-width="1.5"/>
<line x1="494.20" y1="26.75" x2="505.20" y2="26.75" stroke="#000" stroke-width="1.5"/>
<rect x="489.20" y="32.50" width="21.00" height="103.40" fill="#000"/>
<line x1="500.00" y1="135.90" x2="500.00" y2="139.10" stroke="#000" stroke-width="1.2"/>
<text x="502.40" y="149.20" font-size="8.9" font-weight="bold" text-anchor="end" transform="rotate(-45 502.40 149.20)">PF4A35</text>
<text x="287.60" y="205.20" font-size="17.3" font-weight="bold" text-anchor="start">E</text>
<line x1="335.20" y1="207.33" x2="335.20" y2="329.40" stroke="#000" stroke-width="1.3"/>
<line x1="334.60" y1="328.80" x2="520.00" y2="328.80" stroke="#000" stroke-width="1.3"/>
<line x1="332.00" y1="328.80" x2="335.20" y2="328.80" stroke="#000" stroke-width="1.1"/>
<text x="330.60" y="331.80" font-size="8.4" font-weight="bold" text-anchor="end">0.00</text>
<line x1="332.00" y1="304.62" x2="335.20" y2="304.62" stroke="#000" stroke-width="1.1"/>
<text x="330.60" y="307.62" font-size="8.4" font-weight="bold" text-anchor="end">0.25</text>
<line x1="332.00" y1="280.45" x2="335.20" y2="280.45" stroke="#000" stroke-width="1.1"/>
<text x="330.60" y="283.45" font-size="8.4" font-weight="bold" text-anchor="end">0.50</text>
<line x1="332.00" y1="256.27" x2="335.20" y2="256.27" stroke="#000" stroke-width="1.1"/>
<text x="330.60" y="259.27" font-size="8.4" font-weight="bold" text-anchor="end">0.75</text>
<line x1="332.00" y1="232.10" x2="335.20" y2="232.10" stroke="#000" stroke-width="1.1"/>
<text x="330.60" y="235.10" font-size="8.4" font-weight="bold" text-anchor="end">1.00</text>
<line x1="332.00" y1="207.93" x2="335.20" y2="207.93" stroke="#000" stroke-width="1.1"/>
<text x="330.60" y="210.93" font-size="8.4" font-weight="bold" text-anchor="end">1.25</text>
<text x="308.00" y="268.50" font-size="10.2" font-weight="bold" text-anchor="middle" transform="rotate(-90 308.00 268.50)">ULC (% Max)</text>
<rect x="342.50" y="232.10" width="3.20" height="96.70" fill="url(#pGray)" stroke="#000" stroke-width="0.9"/>
<rect x="347.26" y="259.47" width="3.20" height="69.33" fill="url(#pGray)" stroke="#000" stroke-width="0.9"/>
<rect x="352.02" y="268.85" width="3.20" height="59.95" fill="url(#pGray)" stroke="#000" stroke-width="0.9"/>
<rect x="356.78" y="272.13" width="3.20" height="56.67" fill="url(#pGray)" stroke="#000" stroke-width="0.9"/>
<rect x="361.54" y="279.00" width="3.20" height="49.80" fill="url(#pGray)" stroke="#000" stroke-width="0.9"/>
<rect x="366.30" y="285.58" width="3.20" height="43.22" fill="url(#pGray)" stroke="#000" stroke-width="0.9"/>
<line x1="353.50" y1="328.80" x2="353.50" y2="332.30" stroke="#000" stroke-width="1.1"/>
<text x="356.00" y="341.80" font-size="8.9" font-weight="bold" text-anchor="end" transform="rotate(-45 356.00 341.80)">PF4A01</text>
<rect x="388.55" y="229.78" width="3.20" height="99.02" fill="url(#pDot)" stroke="#000" stroke-width="0.9"/>
<rect x="393.31" y="238.97" width="3.20" height="89.83" fill="url(#pDot)" stroke="#000" stroke-width="0.9"/>
<rect x="398.07" y="261.11" width="3.20" height="67.69" fill="url(#pDot)" stroke="#000" stroke-width="0.9"/>
<rect x="402.83" y="281.03" width="3.20" height="47.77" fill="url(#pDot)" stroke="#000" stroke-width="0.9"/>
<line x1="390.00" y1="328.80" x2="390.00" y2="332.30" stroke="#000" stroke-width="1.1"/>
<text x="392.50" y="341.80" font-size="8.9" font-weight="bold" text-anchor="end" transform="rotate(-45 392.50 341.80)">PF4A31-01</text>
<rect x="425.00" y="255.02" width="3.20" height="73.78" fill="url(#pDot2)" stroke="#000" stroke-width="0.9"/>
<rect x="429.76" y="281.90" width="3.20" height="46.90" fill="url(#pDot2)" stroke="#000" stroke-width="0.9"/>
<rect x="434.52" y="292.73" width="3.20" height="36.07" fill="url(#pDot2)" stroke="#000" stroke-width="0.9"/>
<rect x="439.28" y="299.21" width="3.20" height="29.59" fill="url(#pDot2)" stroke="#000" stroke-width="0.9"/>
<line x1="426.40" y1="328.80" x2="426.40" y2="332.30" stroke="#000" stroke-width="1.1"/>
<text x="428.90" y="341.80" font-size="8.9" font-weight="bold" text-anchor="end" transform="rotate(-45 428.90 341.80)">PF4A31-04</text>
<line x1="463.20" y1="239.06" x2="463.20" y2="241.48" stroke="#000" stroke-width="1.2"/>
<line x1="461.80" y1="239.06" x2="464.60" y2="239.06" stroke="#000" stroke-width="1.2"/>
<rect x="461.60" y="241.48" width="3.20" height="87.32" fill="#fff" stroke="#000" stroke-width="1.15"/>
<line x1="467.96" y1="233.07" x2="467.96" y2="237.42" stroke="#000" stroke-width="1.2"/>
<line x1="466.56" y1="233.07" x2="469.36" y2="233.07" stroke="#000" stroke-width="1.2"/>
<rect x="466.36" y="237.42" width="3.20" height="91.38" fill="#fff" stroke="#000" stroke-width="1.15"/>
<line x1="472.72" y1="228.91" x2="472.72" y2="232.58" stroke="#000" stroke-width="1.2"/>
<line x1="471.32" y1="228.91" x2="474.12" y2="228.91" stroke="#000" stroke-width="1.2"/>
<rect x="471.12" y="232.58" width="3.20" height="96.22" fill="#fff" stroke="#000" stroke-width="1.15"/>
<line x1="477.48" y1="215.08" x2="477.48" y2="219.43" stroke="#000" stroke-width="1.2"/>
<line x1="476.08" y1="215.08" x2="478.88" y2="215.08" stroke="#000" stroke-width="1.2"/>
<rect x="475.88" y="219.43" width="3.20" height="109.37" fill="#fff" stroke="#000" stroke-width="1.15"/>
<line x1="462.60" y1="328.80" x2="462.60" y2="332.30" stroke="#000" stroke-width="1.1"/>
<text x="465.10" y="341.80" font-size="8.9" font-weight="bold" text-anchor="end" transform="rotate(-45 465.10 341.80)">PF4A35</text>
<rect x="497.90" y="243.90" width="3.20" height="84.90" fill="url(#pDark2)" stroke="#000" stroke-width="0.9"/>
<rect x="502.66" y="241.00" width="3.20" height="87.80" fill="url(#pDark2)" stroke="#000" stroke-width="0.9"/>
<rect x="507.42" y="238.19" width="3.20" height="90.61" fill="url(#pDark2)" stroke="#000" stroke-width="0.9"/>
<rect x="512.18" y="231.42" width="3.20" height="97.38" fill="url(#pDark2)" stroke="#000" stroke-width="0.9"/>
<line x1="498.80" y1="328.80" x2="498.80" y2="332.30" stroke="#000" stroke-width="1.1"/>
<text x="501.30" y="341.80" font-size="8.9" font-weight="bold" text-anchor="end" transform="rotate(-45 501.30 341.80)">PF4A17</text>
</g>
</svg>
</body></html>
